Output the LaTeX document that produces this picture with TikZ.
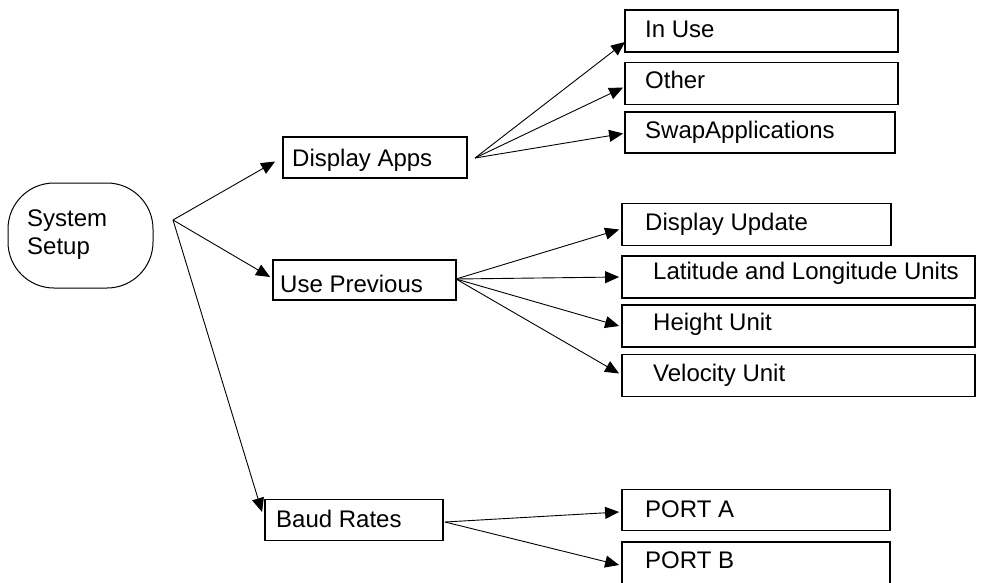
\documentclass[tikz,border=0pt]{standalone}
\usepackage{fontspec}
\setmainfont{Liberation Sans}
\usetikzlibrary{arrows.meta,calc}
\begin{document}
\begin{tikzpicture}[x=1pt,y=-1pt,
  box/.style={draw,line width=1.8pt,rectangle,inner sep=0pt},
  lbl/.style={anchor=base west,inner sep=0pt,font=\fontsize{24}{28}\selectfont},
  arr/.style={line width=0.9pt,-{Triangle[length=14pt,width=12pt]}}]
\useasboundingbox (0,0) rectangle (990,582);
% root
\node[draw,line width=1pt,rounded corners=46pt,minimum width=145pt,minimum height=105pt,inner sep=0pt] (sys) at (80.5,235.5) {};
\node[lbl] (sysA) at (27,226) {System};
\node[lbl] (sysB) at (27,254) {Setup};
\coordinate (br) at (173,220);
% level 1
\node[box,minimum width=184pt,minimum height=41pt] (da) at (375,157.5) {};
\node[lbl] (daT) at (292,166) {Display Apps};
\node[box,minimum width=183pt,minimum height=40pt] (up) at (364.5,280) {};
\node[lbl] (upT) at (280,292) {Use Previous};
\node[box,minimum width=178pt,minimum height=41pt] (baud) at (354,520) {};
\node[lbl] (baudT) at (276,527) {Baud Rates};
% level 2 under Display Apps
\node[box,minimum width=273pt,minimum height=42pt] (inuse) at (761.5,31) {};
\node[lbl] (inuseT) at (645,37) {In Use};
\node[box,minimum width=273pt,minimum height=42pt] (other) at (761.5,83.5) {};
\node[lbl] (otherT) at (645,88) {Other};
\node[box,minimum width=270pt,minimum height=41pt] (swap) at (760,132.5) {};
\node[lbl] (swapT) at (645,138) {SwapApplications};
% level 2 under Use Previous
\node[box,minimum width=269pt,minimum height=42pt] (du) at (756.5,224.5) {};
\node[lbl] (duT) at (645,230) {Display Update};
\node[box,minimum width=353pt,minimum height=42pt] (lat) at (798.5,277) {};
\node[lbl] (latT) at (653,279) {Latitude and Longitude Units};
\node[box,minimum width=353pt,minimum height=42pt] (hu) at (798.5,326) {};
\node[lbl] (huT) at (653,330) {Height Unit};
\node[box,minimum width=353pt,minimum height=42pt] (vu) at (798.5,375.5) {};
\node[lbl] (vuT) at (653,381) {Velocity Unit};
% level 2 under Baud Rates
\node[box,minimum width=268pt,minimum height=41pt] (pa) at (756,510) {};
\node[lbl] (paT) at (645,517) {PORT A};
\node[box,minimum width=268pt,minimum height=42pt] (pb) at (756,563) {};
\node[lbl] (pbT) at (645,568) {PORT B};
% fan origins
\coordinate (dao) at (475,158);
\coordinate (upo) at (456,279);
\coordinate (bro) at (445,522);
% connectors
\draw[arr] (br) -- ([xshift=-7pt,yshift=-4pt]da.west);
\draw[arr] (br) -- ([xshift=-2pt,yshift=3pt]up.west);
\draw[arr] (br) -- ([xshift=-2pt,yshift=8pt]baud.west);
\draw[arr] (dao) -- ([xshift=1pt,yshift=-11pt]inuse.west);
\draw[arr] (dao) -- ([xshift=-1pt,yshift=-4pt]other.west);
\draw[arr] (dao) -- ([xshift=-1pt,yshift=-1pt]swap.west);
\draw[arr] (upo) -- ([xshift=-2pt,yshift=-5pt]du.west);
\draw[arr] (upo) -- ([xshift=-2pt]lat.west);
\draw[arr] (upo) -- ([xshift=-2pt]hu.west);
\draw[arr] (upo) -- ([xshift=-2pt,yshift=2pt]vu.west);
\draw[arr] (bro) -- ([xshift=-2pt,yshift=-2pt]pa.west);
\draw[arr] (bro) -- ([xshift=-2pt,yshift=-2pt]pb.west);
\end{tikzpicture}
\end{document}
